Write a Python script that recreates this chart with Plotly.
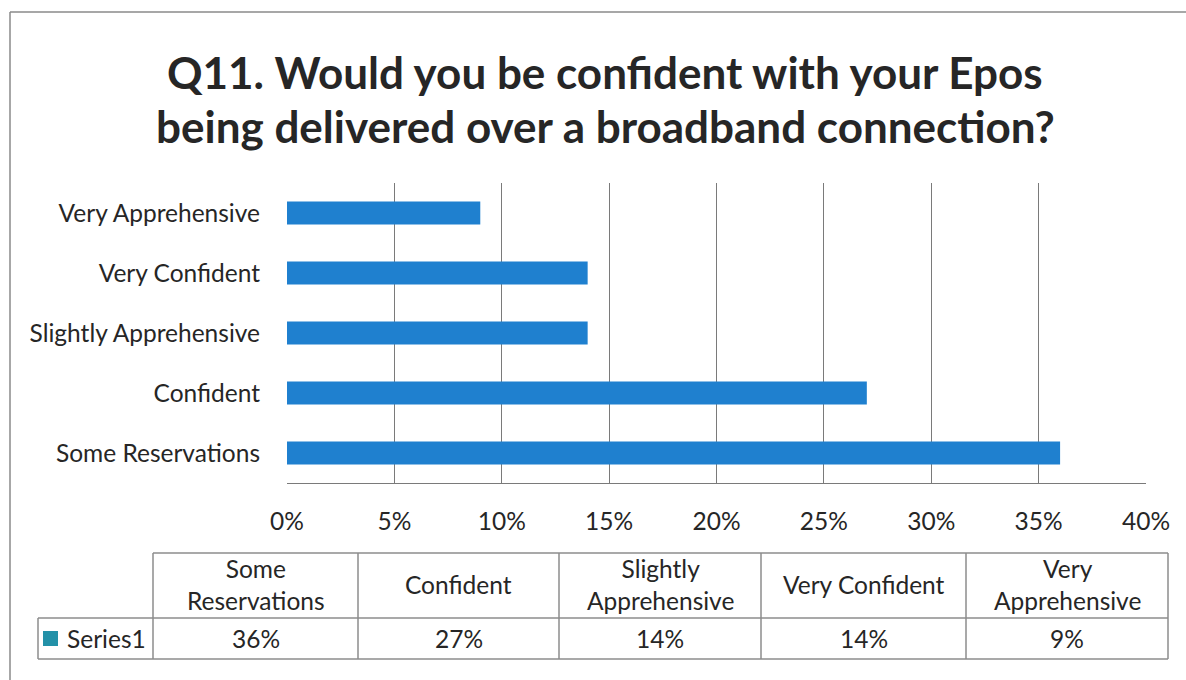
import plotly.graph_objects as go

categories = ["Some Reservations", "Confident", "Slightly Apprehensive", "Very Confident", "Very Apprehensive"]
values = [0.36, 0.27, 0.14, 0.14, 0.09]
table_headers = ["Some<br>Reservations", "Confident", "Slightly<br>Apprehensive", "Very Confident", "Very<br>Apprehensive"]
series_name = "Series1"
x_ticks = [0, 0.05, 0.10, 0.15, 0.20, 0.25, 0.30, 0.35, 0.40]
title_lines = ["Q11. Would you be confident with your Epos", "being delivered over a broadband connection?"]

W, H = 1186, 680
FONT = "Lato"
TXT = "#262626"
BAR = "#1f80cf"
GRID = "#7a7a7a"
FS = 24.5

def px(x):
    return x / W

def py(y):
    return 1 - y / H

fig = go.Figure()
fig.add_trace(go.Bar(
    y=categories, x=values, orientation="h", width=0.38,
    marker=dict(color=BAR, line=dict(width=0)), name=series_name, showlegend=False,
))

fig.update_layout(
    width=W, height=H, autosize=False, margin=dict(l=0, r=0, t=0, b=0, autoexpand=False),
    paper_bgcolor="white", plot_bgcolor="white", showlegend=False,
    font=dict(family=FONT, color=TXT),
    xaxis=dict(domain=[px(287), px(1146)], range=[0, 0.40], tickvals=x_ticks,
               tickformat=".0%", showgrid=True, gridcolor=GRID, gridwidth=1,
               zeroline=False, showline=True, linecolor=GRID, linewidth=1, automargin=False,
               ticks="", tickfont=dict(size=FS, color=TXT), ticklabelstandoff=17),
    yaxis=dict(domain=[py(483), py(183)], range=[-0.5, 4.5], showgrid=False,
               zeroline=False, showline=False, ticks="", automargin=False,
               tickfont=dict(size=FS, color=TXT), ticklabelstandoff=26),
    bargap=0.6,
)

shapes = []
annotations = []
# outer frame (top and left edges)
shapes.append(dict(type="line", xref="paper", yref="paper", x0=px(10), x1=1, y0=py(12), y1=py(12),
                   line=dict(color="#8a8a8a", width=1.5)))
shapes.append(dict(type="line", xref="paper", yref="paper", x0=px(10), x1=px(10), y0=py(12), y1=0,
                   line=dict(color="#8a8a8a", width=1.5)))

# title
for i, (line, yy) in enumerate(zip(title_lines, [72, 126])):
    annotations.append(dict(text=f"<b>{line}</b>", xref="paper", yref="paper", x=px(605), y=py(yy),
                            xanchor="center", yanchor="middle", showarrow=False,
                            font=dict(size=44, color=TXT, family=FONT)))

# data table
col_edges = [153, 358, 559, 761, 966, 1168]
row_top, row_mid, row_bot = 553, 618, 659
label_left = 38
TC = "#8c8c8c"
def hline(x0, x1, y):
    shapes.append(dict(type="line", xref="paper", yref="paper", x0=px(x0), x1=px(x1), y0=py(y), y1=py(y),
                       line=dict(color=TC, width=1.5)))
def vline(x, y0, y1):
    shapes.append(dict(type="line", xref="paper", yref="paper", x0=px(x), x1=px(x), y0=py(y0), y1=py(y1),
                       line=dict(color=TC, width=1.5)))
hline(col_edges[0], col_edges[-1], row_top)
hline(label_left, col_edges[-1], row_mid)
hline(label_left, col_edges[-1], row_bot)
vline(label_left, row_mid, row_bot)
for x in col_edges:
    vline(x, row_top, row_bot)

for i, (hdr, v) in enumerate(zip(table_headers, values)):
    cx = (col_edges[i] + col_edges[i + 1]) / 2
    annotations.append(dict(text=hdr, xref="paper", yref="paper", x=px(cx), y=py((row_top + row_mid) / 2 - 1),
                            xanchor="center", yanchor="middle", showarrow=False,
                            font=dict(size=FS, color=TXT, family=FONT)))
    annotations.append(dict(text=f"{v:.0%}", xref="paper", yref="paper", x=px(cx), y=py((row_mid + row_bot) / 2),
                            xanchor="center", yanchor="middle", showarrow=False,
                            font=dict(size=FS, color=TXT, family=FONT)))

# legend key + series name
shapes.append(dict(type="rect", xref="paper", yref="paper", x0=px(43), x1=px(58), y0=py(646), y1=py(631),
                   fillcolor="#2391a8", line=dict(width=0)))
annotations.append(dict(text=series_name, xref="paper", yref="paper", x=px(65), y=py((row_mid + row_bot) / 2),
                        xanchor="left", yanchor="middle", showarrow=False,
                        font=dict(size=FS, color=TXT, family=FONT)))

fig.update_layout(shapes=shapes, annotations=annotations)

post = (
    "document.body.style.margin='0';"
    "document.documentElement.style.overflow='hidden';"
    "document.body.style.overflow='hidden';"
)
fig.write_html("out.html", config={"responsive": False, "displayModeBar": False}, post_script=post)
